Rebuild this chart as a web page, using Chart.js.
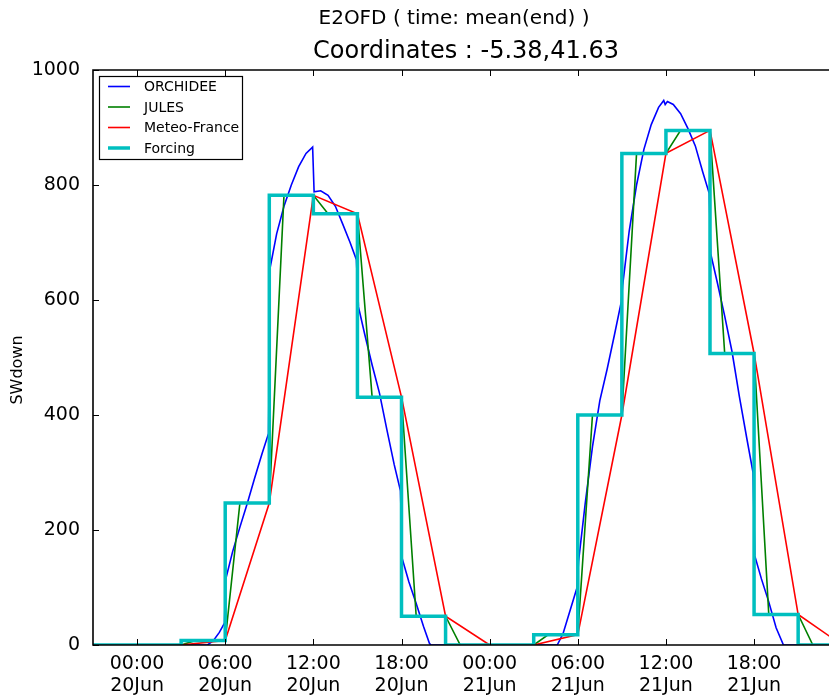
<!DOCTYPE html>
<html>
<head>
<meta charset="utf-8">
<script src="https://cdn.jsdelivr.net/npm/chart.js@4.4.0/dist/chart.umd.min.js"></script>
<style>
  html, body { margin: 0; padding: 0; background: #fff; }
</style>
</head>
<body>
<canvas id="chart" width="829" height="695"></canvas>
<script>
// x values are hours since 00:00 20Jun
const hourTicks = [0, 6, 12, 18, 24, 30, 36, 42];
const tickTimes = ["00:00", "06:00", "12:00", "18:00", "00:00", "06:00", "12:00", "18:00"];
const tickDays = ["20Jun", "20Jun", "20Jun", "20Jun", "21Jun", "21Jun", "21Jun", "21Jun"];
const yTicks = [0, 200, 400, 600, 800, 1000];

// ORCHIDEE (sub-hourly, jumps at the 3h forcing boundaries)
const orchideeHours = [-3, 4.8, 5.2, 5.6, 5.95, 6.02, 6.5, 7, 7.5, 8, 8.5, 8.95,
  9.05, 9.5, 10, 10.5, 11, 11.5, 11.95, 12.05, 12.5, 13, 13.5, 14, 14.5, 14.93,
  15.07, 15.5, 16, 16.5, 17, 17.5, 17.93, 18.05, 18.5, 19, 19.5, 19.9, 20,
  28.6, 29, 29.5, 29.95, 30.05, 30.5, 31, 31.5, 32, 32.5, 32.97, 33.05, 33.5,
  34, 34.5, 35, 35.5, 35.85, 35.95, 36.1, 36.5, 37, 37.5, 38, 38.5, 38.95,
  39.05, 39.5, 40, 40.5, 41, 41.5, 41.93, 42.05, 42.5, 43, 43.5, 44, 48];
const orchideeValues = [0, 0, 8, 22, 38, 113, 162, 205, 246, 290, 332, 368,
  655, 715, 763, 800, 832, 855, 866, 788, 790, 782, 763, 732, 700, 670,
  588, 540, 487, 438, 375, 314, 268, 150, 110, 72, 32, 3, 0,
  0, 20, 62, 100, 145, 245, 345, 425, 480, 540, 598, 625, 720,
  800, 862, 905, 935, 947, 940, 945, 940, 924, 898, 868, 823, 785,
  680, 630, 572, 510, 432, 360, 300, 155, 115, 75, 30, 0, 0];

// JULES (hourly)
const julesHours = [-3, -2, -1, 0, 1, 2, 3, 4, 5, 6, 7, 8, 9, 10, 11, 12, 13, 14,
  15, 16, 17, 18, 19, 20, 21, 22, 23, 24, 25, 26, 27, 28, 29, 30, 31, 32, 33,
  34, 35, 36, 37, 38, 39, 40, 41, 42, 43, 44, 45, 46, 47, 48];
const julesValues = [0, 0, 0, 0, 0, 0, 0, 8, 8, 8, 247, 247, 247, 782, 782, 782,
  750, 750, 750, 431, 431, 431, 50, 50, 50, 0, 0, 0, 0, 0, 0, 18, 18, 18,
  400, 400, 400, 855, 855, 855, 895, 895, 895, 507, 507, 507, 53, 53, 53, 0, 0, 0];

// Meteo-France (3-hourly, value at end of period)
const meteoHours = [-3, 0, 3, 6, 9, 12, 15, 18, 21, 24, 27, 30, 33, 36, 39, 42, 45, 48];
const meteoValues = [0, 0, 0, 8, 247, 782, 750, 431, 50, 0, 0, 18, 400, 855, 895, 507, 53, 0];

// Forcing (3-hourly, held over the following 3h)
const forcingHours = [-3, 0, 3, 6, 9, 12, 15, 18, 21, 24, 27, 30, 33, 36, 39, 42, 45, 48];
const forcingValues = [0, 0, 8, 247, 782, 750, 431, 50, 0, 0, 18, 400, 855, 895, 507, 53, 0, 0];

const FONT = "'DejaVu Sans', sans-serif";

function toPoints(xs, ys) {
  return xs.map((x, i) => ({ x: x, y: ys[i] }));
}

// frame, inward ticks, titles and legend drawn by hand (matplotlib look)
const decorations = {
  id: "decorations",
  afterDraw(chart) {
    const { ctx, chartArea: a, scales } = chart;
    const xs = scales.x, ys = scales.y;
    ctx.save();

    ctx.strokeStyle = "#000";
    ctx.lineWidth = 1;
    ctx.beginPath();
    hourTicks.forEach((h) => {
      const px = Math.round(xs.getPixelForValue(h)) + 0.5;
      ctx.moveTo(px, a.bottom); ctx.lineTo(px, a.bottom - 6);
      ctx.moveTo(px, a.top); ctx.lineTo(px, a.top + 6);
    });
    yTicks.forEach((v) => {
      const py = Math.round(ys.getPixelForValue(v)) + 0.5;
      ctx.moveTo(a.left, py); ctx.lineTo(a.left + 6, py);
    });
    ctx.stroke();

    ctx.lineWidth = 1.6;
    ctx.beginPath();
    ctx.moveTo(a.right + 2, a.top);
    ctx.lineTo(a.left, a.top);
    ctx.lineTo(a.left, a.bottom);
    ctx.lineTo(a.right + 2, a.bottom);
    ctx.stroke();

    // titles
    ctx.fillStyle = "#000";
    ctx.textAlign = "center";
    ctx.textBaseline = "middle";
    ctx.font = "20px " + FONT;
    ctx.fillText("E2OFD ( time: mean(end) )", 454, 19);
    ctx.font = "24px " + FONT;
    ctx.fillText("Coordinates : -5.38,41.63", 466, 52);

    // y axis label
    ctx.save();
    ctx.translate(18, 370);
    ctx.rotate(-Math.PI / 2);
    ctx.font = "16px " + FONT;
    ctx.fillText("SWdown", 0, 0);
    ctx.restore();

    // legend box
    ctx.fillStyle = "#fff";
    ctx.fillRect(99.5, 76.5, 143, 83);
    ctx.lineWidth = 1.2;
    ctx.strokeStyle = "#000";
    ctx.strokeRect(99.5, 76.5, 143, 83);
    ctx.textAlign = "left";
    ctx.font = "14px " + FONT;
    chart.data.datasets.forEach((ds, i) => {
      const y = 86.5 + i * 20.5;
      ctx.strokeStyle = ds.borderColor;
      ctx.lineWidth = ds.borderWidth;
      ctx.beginPath();
      ctx.moveTo(108, y);
      ctx.lineTo(130, y);
      ctx.stroke();
      ctx.fillStyle = "#000";
      ctx.fillText(ds.label, 144, y + 1);
    });

    ctx.restore();
  }
};

const chart = new Chart(document.getElementById("chart"), {
  type: "line",
  data: {
    datasets: [
      {
        label: "ORCHIDEE",
        data: toPoints(orchideeHours, orchideeValues),
        borderColor: "#0000ff",
        borderWidth: 1.6,
        pointRadius: 0,
        order: 4
      },
      {
        label: "JULES",
        data: toPoints(julesHours, julesValues),
        borderColor: "#008000",
        borderWidth: 1.6,
        pointRadius: 0,
        order: 3
      },
      {
        label: "Meteo-France",
        data: toPoints(meteoHours, meteoValues),
        borderColor: "#ff0000",
        borderWidth: 1.6,
        pointRadius: 0,
        order: 2
      },
      {
        label: "Forcing",
        data: toPoints(forcingHours, forcingValues),
        borderColor: "#00bfbf",
        borderWidth: 3.5,
        pointRadius: 0,
        stepped: "before",
        order: 1
      }
    ]
  },
  options: {
    responsive: false,
    animation: false,
    devicePixelRatio: 1,
    layout: { padding: { top: 70, left: 0, right: 0, bottom: 0 } },
    plugins: {
      legend: { display: false },
      tooltip: { enabled: false }
    },
    scales: {
      x: {
        type: "linear",
        min: -3,
        max: 47.1,
        afterBuildTicks: (scale) => {
          scale.ticks = hourTicks.map((v) => ({ value: v }));
        },
        afterFit: (scale) => { scale.height = 50; },
        ticks: {
          autoSkip: false,
          maxRotation: 0,
          padding: 0,
          color: "#000",
          font: { family: FONT, size: 19, lineHeight: 1.15 },
          callback: (v) => {
            const i = hourTicks.indexOf(v);
            return [tickTimes[i], tickDays[i]];
          }
        },
        grid: { display: false },
        border: { display: false }
      },
      y: {
        min: 0,
        max: 1000,
        afterBuildTicks: (scale) => {
          scale.ticks = yTicks.map((v) => ({ value: v }));
        },
        afterFit: (scale) => { scale.width = 93; },
        ticks: {
          padding: 5,
          color: "#000",
          font: { family: FONT, size: 19 },
          callback: (v) => String(v)
        },
        grid: { display: false },
        border: { display: false }
      }
    }
  },
  plugins: [decorations]
});
</script>
</body>
</html>
